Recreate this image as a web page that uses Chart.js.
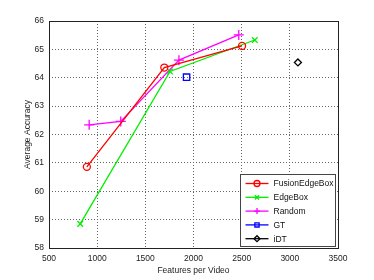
<!DOCTYPE html>
<html>
<head>
<meta charset="utf-8">
<script src="https://cdn.jsdelivr.net/npm/chart.js@4/dist/chart.umd.min.js"></script>
<style>
  html,body{margin:0;padding:0;background:#fff;}
  #wrap{width:374px;height:280px;position:relative;}
</style>
</head>
<body>
<div id="wrap"><canvas id="chart"></canvas></div>
<script>
// values
const fusionX = [893, 1697, 2504];
const fusionY = [60.86, 64.36, 65.12];
const edgeX = [824, 1756, 2636];
const edgeY = [58.85, 64.22, 65.33];
const randomX = [917, 1245, 1849, 2470];
const randomY = [62.34, 62.46, 64.62, 65.51];
const gtX = [1928];
const gtY = [64.02];
const idtX = [3084];
const idtY = [64.54];
const xTicks = [500, 1000, 1500, 2000, 2500, 3000, 3500];
const yTicks = [58, 59, 60, 61, 62, 63, 64, 65, 66];

const font = "'Liberation Sans', Arial, sans-serif";
const pts = (xs, ys) => xs.map((x, i) => ({ x, y: ys[i] }));

const series = [
  { label:'FusionEdgeBox', data:pts(fusionX, fusionY), color:'#ff0000', style:'circle', r:3.5 },
  { label:'EdgeBox', data:pts(edgeX, edgeY), color:'#00ee00', style:'crossRot', r:4 },
  { label:'Random', data:pts(randomX, randomY), color:'#ff00ff', style:'cross', r:5 },
  { label:'GT', data:pts(gtX, gtY), color:'#0000ff', style:'rect', r:4.5 },
  { label:'iDT', data:pts(idtX, idtY), color:'#000000', style:'rectRot', r:3.5 }
];

// box round the plot and the legend in the lower right corner
const boxAndLegend = {
  id:'boxAndLegend',
  afterDraw(chart){
    const c = chart.ctx, a = chart.chartArea;
    c.save();
    c.strokeStyle = '#222'; c.lineWidth = 1; c.setLineDash([]);
    c.strokeRect(Math.round(a.left) + 0.5, Math.round(a.top) + 0.5, Math.round(a.right - a.left), Math.round(a.bottom - a.top));

    const lx = 240.5, ly = 174.5, lw = 95, lh = 72;
    c.fillStyle = '#fff'; c.fillRect(lx, ly, lw, lh);
    c.strokeStyle = '#444'; c.strokeRect(lx, ly, lw, lh);
    c.font = '8.5px ' + font; c.textBaseline = 'middle';
    series.forEach((s, i) => {
      const y = ly + 9 + i * 13.8;
      c.strokeStyle = s.color; c.lineWidth = 1.3;
      c.beginPath(); c.moveTo(lx + 5, y); c.lineTo(lx + 28, y); c.stroke();
      c.fillStyle = 'rgba(0,0,0,0)';
      Chart.helpers.drawPoint(c, { pointStyle:s.style, radius:Math.min(s.r, 3), borderWidth:1.3 }, lx + 16.5, y);
      c.fillStyle = '#111';
      c.fillText(s.label, lx + 33, y + 0.5);
    });
    c.restore();
  }
};

const tickFmt = v => String(v);

new Chart(document.getElementById('chart').getContext('2d'), {
  type:'scatter',
  data:{
    datasets: series.map(s => ({
      label:s.label, data:s.data, showLine:true,
      borderColor:s.color, backgroundColor:'rgba(0,0,0,0)',
      borderWidth:1.3, pointStyle:s.style, pointRadius:s.r,
      pointBorderColor:s.color, pointBorderWidth:1.3, pointBackgroundColor:'rgba(0,0,0,0)'
    }))
  },
  options:{
    responsive:true, maintainAspectRatio:false, animation:false,
    layout:{ padding:{ left:23, right:36, top:21, bottom:4 } },
    plugins:{ legend:{ display:false }, tooltip:{ enabled:false } },
    scales:{
      x:{
        type:'linear', min:500, max:3500,
        afterBuildTicks:s => { s.ticks = xTicks.map(v => ({ value:v })); },
        afterFit:s => { s.height = 28; },
        grid:{ color:'#666', lineWidth:1, drawTicks:false },
        border:{ display:false, dash:[1,2] },
        ticks:{ color:'#222', padding:6, callback:tickFmt, font:{ family:font, size:8.5 } },
        title:{ display:true, text:'Features per Video', color:'#222', padding:{ top:0, bottom:0 }, font:{ family:font, size:8.5 } }
      },
      y:{
        min:58, max:66,
        afterBuildTicks:s => { s.ticks = yTicks.map(v => ({ value:v })); },
        afterFit:s => { s.width = 26; },
        grid:{ color:'#666', lineWidth:1, drawTicks:false },
        border:{ display:false, dash:[1,2] },
        ticks:{ color:'#222', padding:5, callback:tickFmt, font:{ family:font, size:8.5 } },
        title:{ display:true, text:'Average Accuracy', color:'#222', padding:{ top:0, bottom:0 }, font:{ family:font, size:8.5 } }
      }
    }
  },
  plugins:[boxAndLegend]
});
</script>
</body>
</html>
